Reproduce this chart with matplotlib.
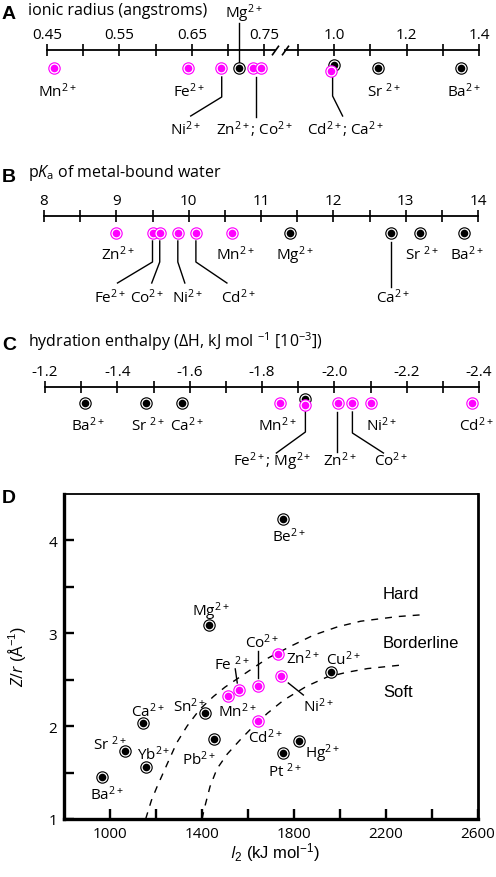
import matplotlib
matplotlib.use("Agg")
import matplotlib.pyplot as plt

plt.rcParams["font.family"] = ["Open Sans", "DejaVu Sans"]
plt.rcParams["mathtext.fontset"] = "custom"
plt.rcParams["mathtext.rm"] = "Open Sans"
plt.rcParams["mathtext.it"] = "Open Sans:italic"
plt.rcParams["mathtext.default"] = "regular"
plt.rcParams["axes.unicode_minus"] = False

W, H = 496, 878
PINK = "#ff00ff"
pink_ions = {"Mn", "Fe", "Co", "Ni", "Zn", "Cd"}

# A: ionic radius (angstroms)
radius_ions = ["Mn", "Fe", "Ni", "Mg", "Zn", "Co", "Ca", "Cd", "Sr", "Ba"]
radius_vals = [0.46, 0.645, 0.69, 0.715, 0.735, 0.745, 1.00, 0.99, 1.12, 1.35]
radius_ticks_lo = [0.45, 0.50, 0.55, 0.60, 0.65, 0.70, 0.75]
radius_labels_lo = ["0.45", "", "0.55", "", "0.65", "", "0.75"]
radius_ticks_hi = [0.9, 1.0, 1.1, 1.2, 1.3, 1.4]
radius_labels_hi = ["", "1.0", "", "1.2", "", "1.4"]

# B: pKa of metal-bound water
pka_ions = ["Zn", "Fe", "Co", "Ni", "Cd", "Mn", "Mg", "Ca", "Sr", "Ba"]
pka_vals = [9.0, 9.5, 9.6, 9.85, 10.1, 10.6, 11.4, 12.8, 13.2, 13.8]
pka_ticks = [8, 8.5, 9, 9.5, 10, 10.5, 11, 11.5, 12, 12.5, 13, 13.5, 14]
pka_labels = ["8", "", "9", "", "10", "", "11", "", "12", "", "13", "", "14"]

# C: hydration enthalpy (kJ/mol, x10^-3)
enth_ions = ["Ba", "Sr", "Ca", "Mn", "Mg", "Fe", "Zn", "Co", "Ni", "Cd"]
enth_vals = [-1.31, -1.48, -1.58, -1.85, -1.92, -1.92, -2.01, -2.05, -2.10, -2.38]
enth_ticks = [-1.2, -1.3, -1.4, -1.5, -1.6, -1.7, -1.8, -1.9, -2.0, -2.1, -2.2, -2.3, -2.4]
enth_labels = ["-1.2", "", "-1.4", "", "-1.6", "", "-1.8", "", "-2.0", "", "-2.2", "", "-2.4"]

# D: charge/radius vs second ionisation energy
hsab_ions = ["Be", "Mg", "Ca", "Sr", "Yb", "Ba", "Sn", "Pb", "Mn", "Fe",
             "Co", "Zn", "Ni", "Cd", "Cu", "Hg", "Pt"]
hsab_i2 = [1750, 1430, 1145, 1065, 1155, 965, 1415, 1452, 1515, 1562,
           1643, 1730, 1745, 1645, 1962, 1820, 1752]
hsab_zr = [4.23, 3.09, 2.03, 1.73, 1.56, 1.45, 2.14, 1.86, 2.32, 2.39,
           2.43, 2.78, 2.54, 2.06, 2.58, 1.84, 1.71]

# dashed class boundaries
hard_i2 = [1155, 1180, 1205, 1250, 1290, 1335, 1390, 1450, 1500, 1595,
           1685, 1785, 1885, 1990, 2090, 2250, 2360]
hard_zr = [1.0, 1.2, 1.35, 1.6, 1.82, 2.0, 2.18, 2.32, 2.42, 2.58,
           2.73, 2.86, 2.98, 3.07, 3.13, 3.18, 3.2]
soft_i2 = [1400, 1413, 1435, 1465, 1510, 1565, 1620, 1685, 1755, 1855,
           1945, 2030, 2120, 2275]
soft_zr = [1.0, 1.14, 1.35, 1.54, 1.7, 1.85, 1.99, 2.14, 2.28, 2.43,
           2.53, 2.58, 2.62, 2.66]


def ion(name, space=False):
    return name + (" " if space else "") + "$^{2+}$"


def px_axes(fig, x0, y0, x1, y1):
    return fig.add_axes([x0 / W, 1 - y1 / H, (x1 - x0) / W, (y1 - y0) / H])


def shift(ax, x, y, dx, dy):
    # move a data point by (dx, dy) screen pixels, dy pointing down
    X, Y = ax.transData.transform((x, y))
    return ax.transData.inverted().transform((X + dx, Y - dy))


def ftext(fig, x, y, s, **kw):
    fig.text(x / W, 1 - y / H, s, **kw)


def number_line(fig, x0, x1, y_line, xlim, ticks, labels, depth=95):
    ax = px_axes(fig, x0, y_line, x1, y_line + depth)
    ax.set_xlim(xlim)
    ax.set_ylim(-depth, 0)
    ax.patch.set_visible(False)
    for side in ("left", "right", "bottom"):
        ax.spines[side].set_visible(False)
    ax.spines["top"].set_linewidth(1.3)
    ax.set_yticks([])
    ax.xaxis.set_ticks_position("top")
    ax.set_xticks(ticks)
    ax.set_xticklabels(labels)
    ax.tick_params(axis="x", direction="inout", length=8, width=1.2,
                   pad=2, labelsize=11)
    return ax


def dot(ax, x, y, name, z):
    c = PINK if name in pink_ions else "black"
    ax.plot([x], [y], "o", ms=9, mfc=c, mec="none", zorder=z, clip_on=False)
    ax.plot([x], [y], "o", ms=6.4, mfc=c, mec="white", mew=0.9,
            zorder=z + 0.1, clip_on=False)


def line_labels(ax, layout, pos):
    for text, ref, dx, dy, leader in layout:
        x0 = pos[ref]
        ax.text(shift(ax, x0, 0, dx, 0)[0], dy, text, ha="center",
                va="baseline", fontsize=11, clip_on=False)
        if leader:
            xs = [shift(ax, x0, 0, p[0], 0)[0] for p in leader]
            ys = [p[1] for p in leader]
            ax.plot(xs, ys, color="black", lw=1.0, clip_on=False)


fig = plt.figure(figsize=(W / 100, H / 100), dpi=100)

# ---------------- A ----------------
axA1 = number_line(fig, 47, 275, 51, (0.45, 0.765), radius_ticks_lo, radius_labels_lo)
axA2 = number_line(fig, 285, 479, 51, (0.864, 1.4), radius_ticks_hi, radius_labels_hi)
slash = [(-1, -1.4), (1, 1.4)]
axA1.plot([1], [1], marker=slash, ms=7, mew=1.2, color="black",
          transform=axA1.transAxes, clip_on=False)
axA2.plot([0], [1], marker=slash, ms=7, mew=1.2, color="black",
          transform=axA2.transAxes, clip_on=False)

dyA = {"Ca": -15, "Cd": -21}
posA = dict(zip(radius_ions, radius_vals))
for i, (name, v) in enumerate(zip(radius_ions, radius_vals)):
    ax = axA1 if v < 0.8 else axA2
    dot(ax, v, dyA.get(name, -18), name, 3 + i * 0.2)

line_labels(axA1, [
    (ion("Mn"), "Mn", 3, -46, None),
    (ion("Fe"), "Fe", 1, -46, None),
    (ion("Mg"), "Mg", 5, 33, [(0, 27), (0, -12)]),
    (ion("Ni"), "Ni", -35, -84, [(1, -27), (1, -47), (-30, -66)]),
    (ion("Zn") + "; " + ion("Co"), "Zn", 1, -84, [(3, -27), (3, -67)]),
], posA)
line_labels(axA2, [
    (ion("Sr", True), "Sr", 6, -46, None),
    (ion("Ba"), "Ba", 3, -46, None),
    (ion("Cd") + "; " + ion("Ca"), "Cd", 15, -84, [(2, -27), (2, -46), (12, -66)]),
], posA)

ftext(fig, 2, 19, "A", fontsize=14, fontweight="bold", family="Liberation Sans")
ftext(fig, 28, 15, "ionic radius (angstroms)", fontsize=11.5)

# ---------------- B ----------------
axB = number_line(fig, 44, 478, 217, (8, 14), pka_ticks, pka_labels)
posB = dict(zip(pka_ions, pka_vals))
for i, (name, v) in enumerate(zip(pka_ions, pka_vals)):
    dot(axB, v, -17, name, 3 + i * 0.2)
line_labels(axB, [
    (ion("Zn"), "Zn", 2, -43, None),
    (ion("Mn"), "Mn", 3, -43, None),
    (ion("Mg"), "Mg", 5, -43, None),
    (ion("Sr", True), "Sr", 2, -43, None),
    (ion("Ba"), "Ba", 3, -43, None),
    (ion("Fe"), "Fe", -42, -86, [(0, -25), (0, -46), (-35, -67)]),
    (ion("Co"), "Co", -13, -86, [(0, -25), (0, -46), (-8, -67)]),
    (ion("Ni"), "Ni", 10, -86, [(0, -25), (0, -46), (7, -67)]),
    (ion("Cd"), "Cd", 42, -86, [(0, -25), (0, -46), (31, -67)]),
    (ion("Ca"), "Ca", 2, -86, [(0, -26), (0, -71)]),
], posB)
ftext(fig, 2, 182, "B", fontsize=14, fontweight="bold", family="Liberation Sans")
ftext(fig, 28, 177, r"p$\mathit{K}_{\mathrm{a}}$ of metal-bound water", fontsize=11.5)

# ---------------- C ----------------
axC = number_line(fig, 45, 479, 388, (-1.2, -2.4), enth_ticks, enth_labels)
dyC = {"Mg": -12, "Fe": -18}
posC = dict(zip(enth_ions, enth_vals))
for i, (name, v) in enumerate(zip(enth_ions, enth_vals)):
    dot(axC, v, dyC.get(name, -16), name, 3 + i * 0.2)
line_labels(axC, [
    (ion("Ba"), "Ba", 3, -43, None),
    (ion("Sr", True), "Sr", 2, -43, None),
    (ion("Ca"), "Ca", 4, -43, None),
    (ion("Mn"), "Mn", -3, -43, None),
    (ion("Ni"), "Ni", 11, -43, None),
    (ion("Cd"), "Cd", 5, -43, None),
    (ion("Fe") + "; " + ion("Mg"), "Fe", -33, -78, [(0, -25), (0, -45), (-29, -66)]),
    (ion("Zn"), "Zn", 2, -78, [(-1, -25), (-1, -65)]),
    (ion("Co"), "Co", 39, -78, [(0, -25), (0, -46), (31, -66)]),
], posC)
ftext(fig, 2, 350, "C", fontsize=14, fontweight="bold", family="Liberation Sans")
ftext(fig, 28, 347, r"hydration enthalpy ($\Delta$H, kJ mol $^{-1}$ [10$^{-3}$])",
      fontsize=11.5)

# ---------------- D ----------------
axD = px_axes(fig, 64, 495, 478, 820)
axD.set_xlim(800, 2600)
axD.set_ylim(1, 4.5)
axD.spines["left"].set_linewidth(2.4)
axD.spines["bottom"].set_linewidth(2.4)
axD.spines["right"].set_linewidth(2.0)
axD.spines["top"].set_linewidth(1.3)
axD.set_xticks([1000, 1200, 1400, 1600, 1800, 2000, 2200, 2400, 2600])
axD.set_xticklabels(["1000", "", "1400", "", "1800", "", "2200", "", "2600"])
axD.set_yticks([1, 1.5, 2, 2.5, 3, 3.5, 4])
axD.set_yticklabels(["1", "", "2", "", "3", "", "4"])
axD.tick_params(direction="in", length=7.5, width=1.7, pad=5, labelsize=11)

axD.plot(hard_i2, hard_zr, color="black", lw=1.0, dashes=(5, 5))
axD.plot(soft_i2, soft_zr, color="black", lw=1.0, dashes=(5, 5))

for i, (name, x, y) in enumerate(zip(hsab_ions, hsab_i2, hsab_zr)):
    dot(axD, x, y, name, 3 + i * 0.2)

d_labels = {
    "Be": (7, 22), "Mg": (2, -10), "Ca": (4, -7), "Sr": (-15, -2),
    "Yb": (8, -8), "Ba": (5, 22), "Sn": (-16, -2), "Pb": (-15, 25),
    "Mn": (9, 20), "Fe": (-7, -21), "Co": (4, -39), "Zn": (25, 9),
    "Ni": (37, 35), "Cd": (7, 21), "Cu": (12, -8), "Hg": (24, 16),
    "Pt": (2, 23),
}
d_spaced = {"Sr", "Pt", "Fe"}
posD = {n: (x, y) for n, x, y in zip(hsab_ions, hsab_i2, hsab_zr)}
for name, (dx, dy) in d_labels.items():
    x, y = posD[name]
    tx, ty = shift(axD, x, y, dx, dy)
    axD.text(tx, ty, ion(name, name in d_spaced), ha="center", va="baseline",
             fontsize=11)

d_leaders = {
    "Fe": [(-4, -21), (-2, -7)],
    "Co": [(0, -35), (0, -8)],
    "Ni": [(7, 7), (22, 19)],
}
for name, pts in d_leaders.items():
    x, y = posD[name]
    xy = [shift(axD, x, y, dx, dy) for dx, dy in pts]
    axD.plot([p[0] for p in xy], [p[1] for p in xy], color="black", lw=1.0)

ftext(fig, 383, 599, "Hard", fontsize=12, family="Liberation Sans")
ftext(fig, 383, 648, "Borderline", fontsize=12, family="Liberation Sans")
ftext(fig, 383, 697, "Soft", fontsize=12, family="Liberation Sans")

ftext(fig, 2, 503, "D", fontsize=14, fontweight="bold", family="Liberation Sans")
ftext(fig, 17, 656, r"$\mathit{Z/r}$ (Å$^{-1}$)", rotation=90, ha="center",
      va="center", fontsize=11.5, family="Liberation Sans")
ftext(fig, 275, 858, r"$\mathit{I}_{2}$ (kJ mol$^{-1}$)", ha="center",
      va="baseline", fontsize=12, family="Liberation Sans")

fig.savefig("out.png", dpi=100)
plt.close(fig)
